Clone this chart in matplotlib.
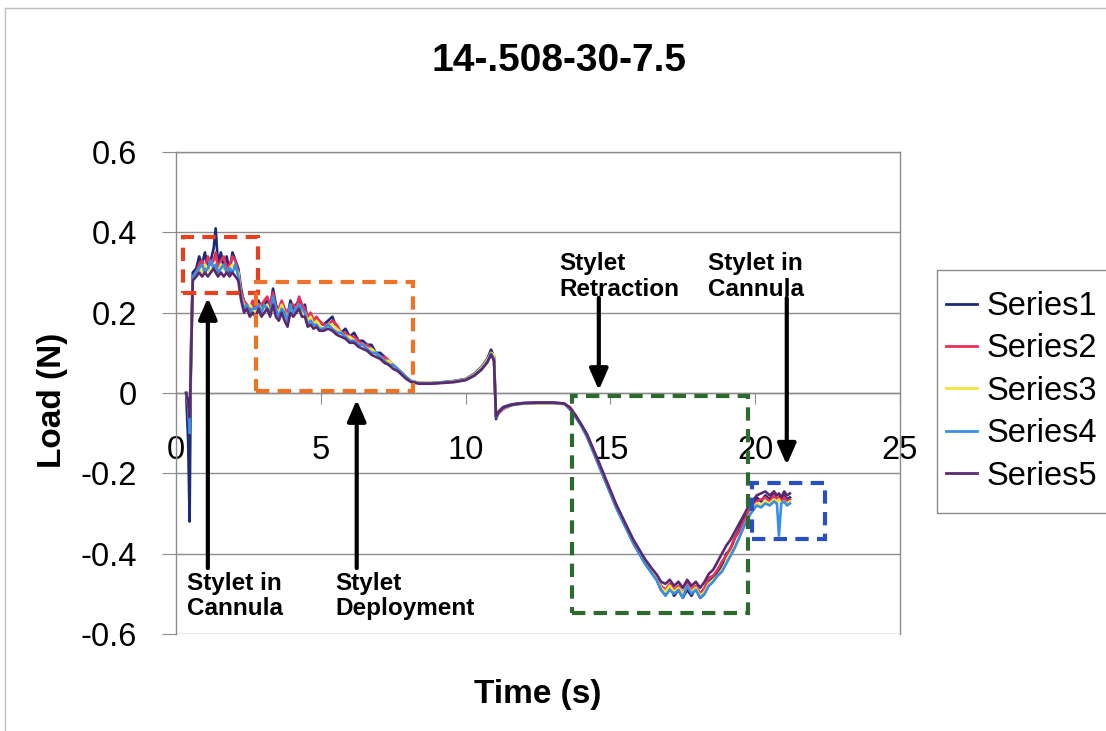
import matplotlib
matplotlib.use('Agg')
import matplotlib.pyplot as plt
from matplotlib.patches import Rectangle
from matplotlib.lines import Line2D

plt.rcParams['font.family'] = ['Liberation Sans', 'DejaVu Sans']

# sample times (s), shared by all five runs
t = [0.35, 0.42, 0.47, 0.52, 0.58,
     0.70, 0.80, 0.90, 1.00, 1.10, 1.20, 1.30, 1.37, 1.45, 1.55, 1.65, 1.75, 1.85, 1.95, 2.05, 2.15,
     2.25, 2.35, 2.45, 2.55, 2.65, 2.75, 2.85, 2.95, 3.05, 3.15, 3.25, 3.35, 3.45, 3.55, 3.65, 3.75,
     3.85, 3.95, 4.05, 4.15, 4.25, 4.35, 4.45, 4.55, 4.65, 4.75, 4.85, 4.95,
     5.10, 5.25, 5.40, 5.55, 5.70, 5.85, 6.00, 6.15, 6.30, 6.45, 6.60, 6.75, 6.90, 7.05, 7.20, 7.35,
     7.50, 7.65, 7.80, 7.95, 8.10,
     8.40, 8.80, 9.20, 9.60, 10.00, 10.30, 10.55, 10.75, 10.88, 10.98, 11.05, 11.15, 11.30, 11.60,
     12.00, 12.50, 13.00, 13.40,
     13.60, 13.80, 14.00, 14.20, 14.40, 14.60, 14.80, 15.00, 15.20, 15.40, 15.60, 15.80, 16.00,
     16.20, 16.40, 16.60,
     16.75, 16.90, 17.05, 17.20, 17.35, 17.50, 17.65, 17.80, 17.95, 18.10, 18.25,
     18.40, 18.55, 18.70, 18.85, 19.00, 19.15, 19.30, 19.45, 19.60, 19.75, 19.90,
     20.05, 20.20, 20.35, 20.50, 20.65, 20.75, 20.82, 20.90, 21.00, 21.10, 21.20]

series1 = [0.00, -0.12, -0.32, 0.12, 0.30,
           0.31, 0.34, 0.32, 0.35, 0.31, 0.33, 0.36, 0.41, 0.32, 0.35, 0.31, 0.34, 0.30, 0.35, 0.33, 0.31,
           0.26, 0.22, 0.21, 0.20, 0.22, 0.20, 0.23, 0.21, 0.22, 0.23, 0.21, 0.26, 0.22, 0.20, 0.22, 0.20,
           0.19, 0.23, 0.21, 0.22, 0.23, 0.21, 0.22, 0.18, 0.19, 0.17, 0.18, 0.17,
           0.17, 0.18, 0.19, 0.16, 0.15, 0.16, 0.14, 0.15, 0.13, 0.13, 0.12, 0.12, 0.10, 0.10, 0.09, 0.08,
           0.07, 0.06, 0.05, 0.04, 0.03,
           0.025, 0.025, 0.027, 0.030, 0.035, 0.048, 0.065, 0.085, 0.108, 0.09, -0.065, -0.045, -0.035,
           -0.028, -0.025, -0.024, -0.024, -0.026,
           -0.04, -0.06, -0.08, -0.11, -0.145, -0.18, -0.215, -0.25, -0.285, -0.315, -0.345, -0.375,
           -0.40, -0.425, -0.445, -0.465,
           -0.49, -0.50, -0.48, -0.505, -0.49, -0.51, -0.49, -0.505, -0.485, -0.51, -0.50,
           -0.47, -0.46, -0.45, -0.43, -0.40, -0.39, -0.36, -0.34, -0.31, -0.30, -0.28,
           -0.26, -0.27, -0.255, -0.265, -0.25, -0.27, -0.26, -0.27, -0.255, -0.265, -0.26]

series2 = [0.00, -0.03, -0.08, 0.10, 0.29,
           0.30, 0.32, 0.33, 0.31, 0.34, 0.32, 0.33, 0.35, 0.31, 0.33, 0.34, 0.31, 0.32, 0.34, 0.33, 0.30,
           0.25, 0.23, 0.22, 0.21, 0.23, 0.21, 0.22, 0.22, 0.23, 0.24, 0.22, 0.25, 0.21, 0.21, 0.23, 0.21,
           0.20, 0.22, 0.22, 0.21, 0.24, 0.22, 0.21, 0.19, 0.20, 0.18, 0.19, 0.18,
           0.17, 0.17, 0.18, 0.17, 0.15, 0.15, 0.14, 0.14, 0.13, 0.12, 0.12, 0.11, 0.10, 0.09, 0.09, 0.08,
           0.07, 0.06, 0.05, 0.04, 0.03,
           0.025, 0.024, 0.026, 0.029, 0.033, 0.045, 0.062, 0.080, 0.10, 0.092, -0.06, -0.05, -0.04,
           -0.03, -0.026, -0.025, -0.025, -0.027,
           -0.035, -0.055, -0.08, -0.105, -0.14, -0.175, -0.21, -0.245, -0.28, -0.31, -0.34, -0.37,
           -0.395, -0.42, -0.44, -0.46,
           -0.48, -0.49, -0.475, -0.49, -0.48, -0.50, -0.47, -0.49, -0.48, -0.50, -0.485,
           -0.46, -0.455, -0.44, -0.42, -0.405, -0.385, -0.36, -0.345, -0.32, -0.30, -0.285,
           -0.27, -0.265, -0.26, -0.27, -0.255, -0.265, -0.26, -0.27, -0.26, -0.27, -0.265]

series3 = [0.00, -0.02, -0.05, 0.08, 0.28,
           0.30, 0.31, 0.30, 0.32, 0.31, 0.30, 0.32, 0.31, 0.30, 0.32, 0.31, 0.30, 0.31, 0.32, 0.31, 0.30,
           0.24, 0.22, 0.21, 0.22, 0.21, 0.20, 0.22, 0.21, 0.21, 0.22, 0.20, 0.23, 0.21, 0.20, 0.22, 0.20,
           0.19, 0.21, 0.20, 0.21, 0.22, 0.20, 0.20, 0.18, 0.19, 0.17, 0.18, 0.17,
           0.16, 0.17, 0.17, 0.16, 0.15, 0.14, 0.14, 0.13, 0.12, 0.12, 0.11, 0.11, 0.10, 0.09, 0.08, 0.08,
           0.07, 0.06, 0.05, 0.04, 0.03,
           0.025, 0.025, 0.026, 0.029, 0.034, 0.046, 0.063, 0.082, 0.10, 0.095, -0.055, -0.045, -0.038,
           -0.03, -0.027, -0.026, -0.026, -0.028,
           -0.037, -0.058, -0.082, -0.108, -0.142, -0.178, -0.213, -0.248, -0.283, -0.313, -0.343,
           -0.373, -0.398, -0.423, -0.443, -0.462,
           -0.485, -0.495, -0.48, -0.495, -0.485, -0.50, -0.48, -0.495, -0.485, -0.505, -0.495,
           -0.475, -0.465, -0.455, -0.44, -0.42, -0.40, -0.38, -0.36, -0.335, -0.31, -0.29,
           -0.275, -0.28, -0.27, -0.275, -0.265, -0.27, -0.265, -0.275, -0.27, -0.275, -0.27]

series4 = [0.00, -0.03, -0.10, 0.09, 0.29,
           0.30, 0.31, 0.32, 0.30, 0.31, 0.33, 0.31, 0.32, 0.30, 0.31, 0.32, 0.30, 0.31, 0.30, 0.32, 0.29,
           0.24, 0.21, 0.22, 0.20, 0.21, 0.21, 0.22, 0.20, 0.22, 0.21, 0.20, 0.24, 0.21, 0.19, 0.21, 0.20,
           0.18, 0.22, 0.20, 0.21, 0.22, 0.21, 0.20, 0.17, 0.18, 0.17, 0.17, 0.16,
           0.16, 0.17, 0.16, 0.15, 0.15, 0.14, 0.13, 0.13, 0.12, 0.12, 0.11, 0.10, 0.10, 0.09, 0.08, 0.07,
           0.07, 0.06, 0.05, 0.04, 0.03,
           0.024, 0.024, 0.026, 0.028, 0.033, 0.044, 0.06, 0.078, 0.098, 0.085, -0.06, -0.048, -0.037,
           -0.03, -0.026, -0.025, -0.025, -0.027,
           -0.038, -0.06, -0.083, -0.11, -0.144, -0.18, -0.215, -0.25, -0.285, -0.315, -0.345, -0.375,
           -0.40, -0.425, -0.446, -0.466,
           -0.49, -0.505, -0.49, -0.50, -0.49, -0.51, -0.48, -0.50, -0.49, -0.51, -0.50,
           -0.48, -0.47, -0.455, -0.445, -0.425, -0.405, -0.385, -0.36, -0.335, -0.31, -0.295,
           -0.28, -0.285, -0.275, -0.28, -0.27, -0.275, -0.355, -0.275, -0.27, -0.28, -0.275]

series5 = [0.00, -0.02, -0.06, 0.08, 0.28,
           0.29, 0.30, 0.29, 0.30, 0.29, 0.30, 0.31, 0.30, 0.29, 0.30, 0.29, 0.30, 0.29, 0.30, 0.29, 0.28,
           0.23, 0.20, 0.21, 0.19, 0.20, 0.19, 0.21, 0.19, 0.20, 0.21, 0.19, 0.22, 0.19, 0.18, 0.20, 0.18,
           0.165, 0.20, 0.19, 0.20, 0.21, 0.19, 0.19, 0.165, 0.17, 0.16, 0.165, 0.155,
           0.155, 0.16, 0.155, 0.145, 0.14, 0.135, 0.125, 0.125, 0.115, 0.11, 0.105, 0.095, 0.09, 0.085,
           0.075, 0.07, 0.06, 0.055, 0.045, 0.035, 0.028,
           0.023, 0.023, 0.025, 0.027, 0.032, 0.043, 0.058, 0.076, 0.096, 0.08, -0.058, -0.046, -0.036,
           -0.029, -0.025, -0.024, -0.024, -0.026,
           -0.036, -0.056, -0.079, -0.104, -0.138, -0.172, -0.207, -0.242, -0.277, -0.307, -0.337,
           -0.366, -0.39, -0.414, -0.434, -0.452,
           -0.47, -0.475, -0.465, -0.48, -0.47, -0.485, -0.465, -0.48, -0.47, -0.485, -0.47,
           -0.45, -0.44, -0.42, -0.40, -0.38, -0.365, -0.345, -0.325, -0.305, -0.285, -0.27,
           -0.255, -0.25, -0.245, -0.255, -0.245, -0.255, -0.25, -0.26, -0.245, -0.255, -0.25]

series_names = ['Series1', 'Series2', 'Series3', 'Series4', 'Series5']
series_colors = ['#1c2a7a', '#ea2f5a', '#f4e53a', '#3a8ee6', '#5b2a6e']

x_ticks = [0, 5, 10, 15, 20, 25]
y_ticks = [-0.6, -0.4, -0.2, 0, 0.2, 0.4, 0.6]
y_tick_labels = ['-0.6', '-0.4', '-0.2', '0', '0.2', '0.4', '0.6']

# highlighted regions: (t0, t1, load0, load1, colour)
boxes = [(0.24, 2.83, 0.249, 0.388, '#e8401e'),
         (2.76, 8.18, 0.005, 0.276, '#f07224'),
         (13.66, 19.76, -0.548, -0.007, '#2d6a2d'),
         (19.88, 22.41, -0.364, -0.225, '#2a4fc0')]

# arrows: (t, tail load, tip load)
arrows = [(1.10, -0.436, 0.237),
          (6.24, -0.436, -0.017),
          (14.60, 0.237, 0.007),
          (21.09, 0.237, -0.179)]

# phase labels: (t, top load, text)
phase_labels = [(0.37, -0.446, 'Stylet in\nCannula'),
                (5.49, -0.446, 'Stylet\nDeployment'),
                (13.24, 0.350, 'Stylet\nRetraction'),
                (18.38, 0.350, 'Stylet in\nCannula')]

fig = plt.figure(figsize=(11.06, 7.31), dpi=100)
ax = fig.add_axes([176 / 1106, 1 - 634 / 731, 724 / 1106, 482 / 731])

grey = '#8c8c8c'
for y in y_ticks:
    ax.axhline(y, color=grey, lw=1, zorder=1)

for vals, name, col in zip([series1, series2, series3, series4, series5], series_names, series_colors):
    ax.plot(t, vals, color=col, lw=1.9, label=name, zorder=3)

for t0, t1, y0, y1, col in boxes:
    ax.add_patch(Rectangle((t0, y0), t1 - t0, y1 - y0, fill=False, ec=col, lw=3,
                           ls=(0, (3.2, 2.0)), zorder=4))

for x, y_tail, y_tip in arrows:
    ax.annotate('', xy=(x, y_tip), xytext=(x, y_tail),
                arrowprops=dict(arrowstyle='-|>,head_length=0.8,head_width=0.35', color='black',
                                lw=3, shrinkA=0, shrinkB=0, mutation_scale=16), zorder=5)

for x, y, txt in phase_labels:
    ax.text(x, y, txt, fontsize=17.5, fontweight='bold', ha='left', va='top',
            linespacing=1.12, zorder=5)

ax.set_xlim(0, 25)
ax.set_ylim(-0.6, 0.6)
ax.set_xticks(x_ticks)
ax.set_yticks(y_ticks)
ax.set_yticklabels(y_tick_labels)

ax.spines['bottom'].set_position(('data', 0))
for side in ['left', 'bottom', 'top', 'right']:
    ax.spines[side].set_color(grey)
    ax.spines[side].set_linewidth(1)
ax.tick_params(axis='x', direction='out', length=8, color=grey, labelsize=23.5, pad=22)
ax.tick_params(axis='y', direction='out', length=10, color=grey, labelsize=23.5, pad=18)

fig.text(559 / 1106, 1 - 61 / 731, '14-.508-30-7.5', fontsize=28, fontweight='bold',
         ha='center', va='center')
fig.text(538 / 1106, 1 - 695 / 731, 'Time (s)', fontsize=24, fontweight='bold',
         ha='center', va='center')
fig.text(52 / 1106, 1 - 400 / 731, 'Load (N)', fontsize=24, fontweight='bold',
         ha='center', va='center', rotation=90)

# legend entries without their own frame; the box is drawn separately
leg = ax.legend(loc='upper left', bbox_to_anchor=(946 / 1106, 1 - 291 / 731),
                bbox_transform=fig.transFigure, borderaxespad=0, fontsize=23.5,
                handlelength=0.95, handletextpad=0.3, labelspacing=0.35,
                borderpad=0, frameon=False)
for h in leg.get_lines():
    h.set_linewidth(2)
fig.add_artist(Rectangle((937 / 1106, 1 - 513 / 731), 200 / 1106, 243 / 731,
                         transform=fig.transFigure, fill=False, ec=grey, lw=1))

# outer chart frame (top and left edges)
fig.add_artist(Line2D([5 / 1106, 5 / 1106], [0, 1 - 8 / 731], transform=fig.transFigure,
                      color='#bdbdbd', lw=1))
fig.add_artist(Line2D([5 / 1106, 1], [1 - 8 / 731, 1 - 8 / 731], transform=fig.transFigure,
                      color='#bdbdbd', lw=1))

fig.savefig('out.png', dpi=100)
